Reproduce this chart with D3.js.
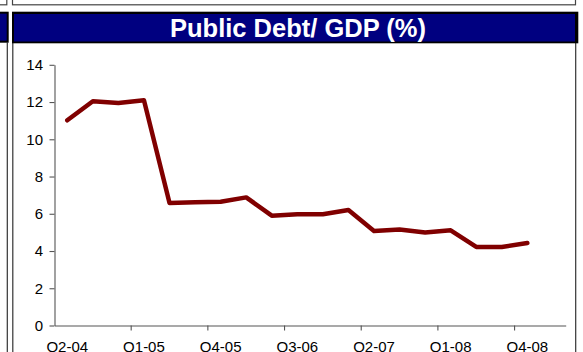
<!DOCTYPE html>
<html>
<head>
<meta charset="utf-8">
<script src="https://cdn.jsdelivr.net/npm/d3@7/dist/d3.min.js"></script>
<style>
  html, body { margin: 0; padding: 0; background: #fff; overflow: hidden; }
  svg { display: block; font-family: "Liberation Sans", Arial, sans-serif; }
</style>
</head>
<body>
<svg id="chart" width="583" height="352"></svg>
<script>
const title = "Public Debt/ GDP (%)";
const categories = ["Q2-04","Q3-04","Q4-04","Q1-05","Q2-05","Q3-05","Q4-05","Q1-06","Q2-06","Q3-06",
                    "Q4-06","Q1-07","Q2-07","Q3-07","Q4-07","Q1-08","Q2-08","Q3-08","Q4-08","Q1-09"];
const debtValues = [11.02, 12.04, 11.95, 12.1, 6.58, 6.62, 6.65, 6.88, 5.9, 5.97,
                    5.97, 6.2, 5.08, 5.16, 5.0, 5.11, 4.22, 4.22, 4.43, null];
const yTicks = [0, 2, 4, 6, 8, 10, 12, 14];
const labelEvery = 3;

const svg = d3.select("#chart");

// --- surrounding sheet decorations (neighbouring panels) ---
svg.append("rect").attr("x", 12.5).attr("y", -5).attr("width", 563).attr("height", 9.8)
  .attr("fill", "#fff").attr("stroke", "#444").attr("stroke-width", 1.2);
svg.append("rect").attr("x", -10).attr("y", -5).attr("width", 16.8).attr("height", 9.8)
  .attr("fill", "#fff").attr("stroke", "#444").attr("stroke-width", 1.2);
svg.append("rect").attr("x", -10).attr("y", 11.7).attr("width", 18.7).attr("height", 31)
  .attr("fill", "#000");
svg.append("rect").attr("x", -10).attr("y", 13.7).attr("width", 16.7).attr("height", 27)
  .attr("fill", "#000080");
svg.append("line").attr("x1", 7.3).attr("x2", 7.3).attr("y1", 42).attr("y2", 352)
  .attr("stroke", "#333").attr("stroke-width", 1.2);
svg.append("line").attr("x1", 12.8).attr("x2", 12.8).attr("y1", 42).attr("y2", 352)
  .attr("stroke", "#333").attr("stroke-width", 1.2);
svg.append("line").attr("x1", 575.7).attr("x2", 575.7).attr("y1", 42).attr("y2", 352)
  .attr("stroke", "#333").attr("stroke-width", 1.2);

// title bar with shadow
svg.append("rect").attr("x", 12).attr("y", 11.7).attr("width", 566.3).attr("height", 31.6)
  .attr("fill", "#000");
svg.append("rect").attr("x", 14).attr("y", 14).attr("width", 561).attr("height", 27.5)
  .attr("fill", "#000080");
svg.append("text").attr("x", 298).attr("y", 37)
  .attr("text-anchor", "middle").attr("fill", "#fff")
  .attr("font-weight", "bold").attr("font-size", 25.5)
  .text(title);

// --- scales ---
const x = d3.scaleBand().domain(categories).range([54.5, 565.7]).padding(0);
const y = d3.scaleLinear().domain([0, 14]).range([325.5, 64.8]);

// y axis
const yAxis = svg.append("g").attr("transform", "translate(54.5,0)")
  .call(d3.axisLeft(y).tickValues(yTicks).tickSize(5).tickPadding(6.5).tickSizeOuter(0));
yAxis.select(".domain").attr("stroke", "#555").attr("stroke-width", 1.1);
yAxis.selectAll(".tick line").attr("stroke", "#555").attr("stroke-width", 1.1);
yAxis.selectAll("text").attr("font-size", 15).attr("fill", "#000")
  .attr("font-family", "'Liberation Sans', Arial, sans-serif");

// x axis: labels at category centres
const labelCats = categories.filter((d, i) => i % labelEvery === 0);
const xAxis = svg.append("g").attr("transform", "translate(0,325.5)")
  .call(d3.axisBottom(x).tickValues(labelCats).tickSize(0).tickPadding(15.5).tickSizeOuter(0));
xAxis.select(".domain").attr("stroke", "#555").attr("stroke-width", 1.1);
xAxis.selectAll("text").attr("font-size", 15).attr("fill", "#000")
  .attr("font-family", "'Liberation Sans', Arial, sans-serif");
// tick marks at category boundaries
xAxis.selectAll(".btick").data(labelCats.slice(1)).enter().append("line")
  .attr("class", "btick")
  .attr("x1", d => x(d)).attr("x2", d => x(d))
  .attr("y1", 0).attr("y2", 5)
  .attr("stroke", "#555").attr("stroke-width", 1.1);

// line
const pts = categories.map((c, i) => ({ c, v: debtValues[i] }));
const line = d3.line()
  .defined(d => d.v != null)
  .x(d => x(d.c) + x.bandwidth() / 2)
  .y(d => y(d.v));
svg.append("path").datum(pts)
  .attr("d", line)
  .attr("fill", "none")
  .attr("stroke", "#800000")
  .attr("stroke-width", 4.5)
  .attr("stroke-linejoin", "round")
  .attr("stroke-linecap", "round");
</script>
</body>
</html>
